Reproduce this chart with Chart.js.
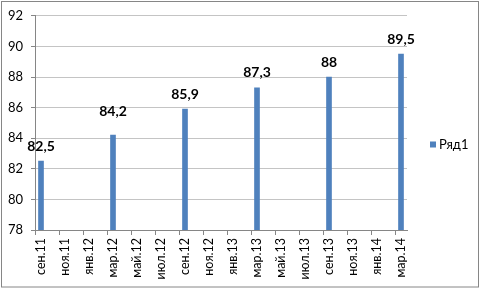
<!DOCTYPE html>
<html>
<head>
<meta charset="utf-8">
<script src="https://cdn.jsdelivr.net/npm/chart.js"></script>
<style>
    html, body { margin: 0; padding: 0; background: #fff; }
    #wrap { width: 481px; height: 289px; }
</style>
</head>
<body>
<div id="wrap"><canvas id="chart" width="481" height="289"></canvas></div>
<script>
// Monthly categories, сен.11 .. мар.14 (every second one is labelled)
const months = [
    'сен.11', 'окт.11', 'ноя.11', 'дек.11', 'янв.12', 'фев.12', 'мар.12', 'апр.12',
    'май.12', 'июн.12', 'июл.12', 'авг.12', 'сен.12', 'окт.12', 'ноя.12', 'дек.12',
    'янв.13', 'фев.13', 'мар.13', 'апр.13', 'май.13', 'июн.13', 'июл.13', 'авг.13',
    'сен.13', 'окт.13', 'ноя.13', 'дек.13', 'янв.14', 'фев.14', 'мар.14'
];

// Values per month (only every 6th month has a measurement)
const values = [
    82.5, null, null, null, null, null,
    84.2, null, null, null, null, null,
    85.9, null, null, null, null, null,
    87.3, null, null, null, null, null,
    88,   null, null, null, null, null,
    89.5
];

const seriesName = 'Ряд1';
const yMin = 78;
const yMax = 92;
const yStep = 2;

const FONT = 'Lato, "Liberation Sans", sans-serif';
const AXIS_COLOR = '#868686';
const GRID_COLOR = '#c4c4c4';
const BAR_COLOR = '#4f81bd';

// White background + thin outer frame like the Excel chart border
const framePlugin = {
    id: 'frame',
    beforeDraw(chart) {
        const ctx = chart.ctx;
        ctx.save();
        ctx.fillStyle = '#fff';
        ctx.fillRect(0, 0, chart.width, chart.height);
        ctx.restore();
    },
    afterDraw(chart) {
        const ctx = chart.ctx;
        ctx.save();
        ctx.strokeStyle = AXIS_COLOR;
        ctx.lineWidth = 1;
        ctx.strokeRect(1.5, 1.5, chart.width - 4, chart.height - 3.5);
        ctx.restore();
    }
};

// Bold value labels above the bars (decimal comma)
const valueLabels = {
    id: 'valueLabels',
    afterDatasetsDraw(chart, args, opts) {
        const ctx = chart.ctx;
        const meta = chart.getDatasetMeta(0);
        const data = chart.data.datasets[0].data;
        ctx.save();
        ctx.font = 'bold 14px ' + FONT;
        ctx.fillStyle = '#000';
        ctx.textAlign = 'center';
        ctx.textBaseline = 'middle';
        meta.data.forEach((bar, i) => {
            if (data[i] === null) return;
            const extra = (opts.lift && opts.lift[i]) || 0;
            ctx.fillText(String(data[i]).replace('.', ','), bar.x, bar.y - 15 - extra);
        });
        ctx.restore();
    }
};

// Legend to the right of the plot, vertically centred on the canvas
const sideLegend = {
    id: 'sideLegend',
    afterDraw(chart) {
        const ctx = chart.ctx;
        const ds = chart.data.datasets[0];
        const x = chart.chartArea.right + 23;
        const y = chart.height / 2;
        ctx.save();
        ctx.fillStyle = ds.backgroundColor;
        ctx.fillRect(x, y - 3, 6, 6);
        ctx.font = '13px ' + FONT;
        ctx.fillStyle = '#000';
        ctx.textBaseline = 'middle';
        ctx.fillText(ds.label, x + 9, y);
        ctx.restore();
    }
};

new Chart(document.getElementById('chart').getContext('2d'), {
    type: 'bar',
    data: {
        labels: months,
        datasets: [{
            label: seriesName,
            data: values,
            backgroundColor: BAR_COLOR,
            barThickness: 5
        }]
    },
    options: {
        responsive: false,
        animation: false,
        layout: {
            padding: { left: 0, top: 15, right: 74, bottom: 0 }
        },
        plugins: {
            legend: { display: false },
            tooltip: { enabled: false },
            valueLabels: {
                lift: { 6: 9 }
            }
        },
        scales: {
            x: {
                offset: true,
                afterFit(scale) { scale.height = 59; },
                border: { color: AXIS_COLOR },
                grid: {
                    offset: true,
                    drawOnChartArea: false,
                    tickLength: 5,
                    color: ctx => ctx.index % 2 === 0 ? AXIS_COLOR : 'rgba(0,0,0,0)'
                },
                ticks: {
                    autoSkip: false,
                    minRotation: 90,
                    maxRotation: 90,
                    padding: 3,
                    color: '#000',
                    font: { family: FONT, size: 12.5 },
                    callback: (val, idx) => idx % 2 === 0 ? months[idx] : ''
                }
            },
            y: {
                min: yMin,
                max: yMax,
                afterFit(scale) { scale.width = 35; },
                border: { color: AXIS_COLOR },
                grid: {
                    color: GRID_COLOR,
                    tickColor: AXIS_COLOR,
                    tickLength: 4
                },
                ticks: {
                    stepSize: yStep,
                    padding: 8,
                    color: '#000',
                    font: { family: FONT, size: 13 }
                }
            }
        }
    },
    plugins: [framePlugin, valueLabels, sideLegend]
});
</script>
</body>
</html>
